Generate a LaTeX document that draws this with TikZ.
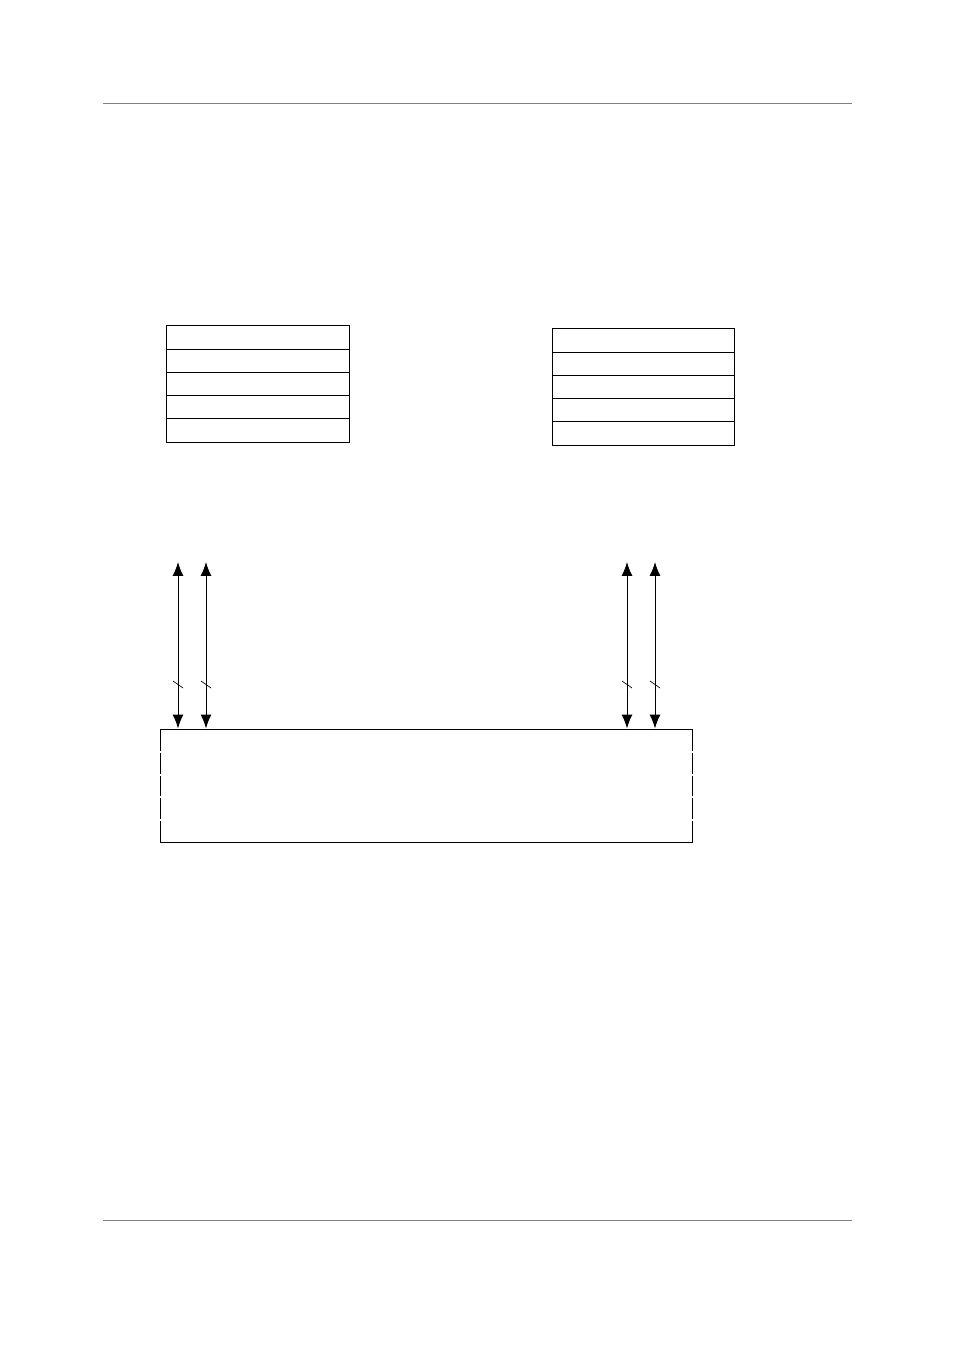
\documentclass[tikz,border=0pt]{standalone}
\usetikzlibrary{arrows.meta}
\begin{document}
\begin{tikzpicture}[x=0.02646cm,y=-0.02646cm]
	\tikzstyle{Row} = [rectangle, minimum width=4.816cm, minimum height=0.614cm, draw=black, line width=0.75pt, inner sep=0pt]
	\tikzstyle{Bus} = [rectangle, minimum width=14.10cm, minimum height=2.99cm, draw=black, line width=0.75pt, inner sep=0pt]
	\tikzstyle{arrow} = [line width=0.75pt,{Latex[length=3.7mm,width=2.9mm]}-{Latex[length=3.7mm,width=2.9mm]}]
	\tikzstyle{rule} = [line width=0.75pt, gray]

	\useasboundingbox (0,0) rectangle (954,1351);

	% page rules
	\draw [rule] (103,104) -- (852,104);
	\draw [rule] (103,1220) -- (852,1220);

	% two stacks of registers
	\foreach \i/\y in {1/337.6, 2/360.8, 3/384, 4/407.2, 5/430.4}
		\node (l\i) [Row] at (258,\y) {};
	\foreach \i/\y in {1/340.6, 2/363.8, 3/387, 4/410.2, 5/433.4}
		\node (r\i) [Row] at (643,\y) {};

	% bus block
	\node (bus) [Bus] at (426.5,785.5) {};
	\foreach \y in {752, 775, 797, 820} {
		\draw [white, line width=1pt] (158,\y) -- (162,\y);
		\draw [white, line width=1pt] (691,\y) -- (695,\y);
	}

	% links
	\foreach \n/\x in {a/178, b/206, c/627, d/655} {
		\coordinate (\n top) at (\x,562);
		\draw [arrow] (\n top) -- (\n top |- bus.north);
		\draw [line width=0.5pt] (\x-5,681) -- (\x+5,688);
	}
\end{tikzpicture}
\end{document}
